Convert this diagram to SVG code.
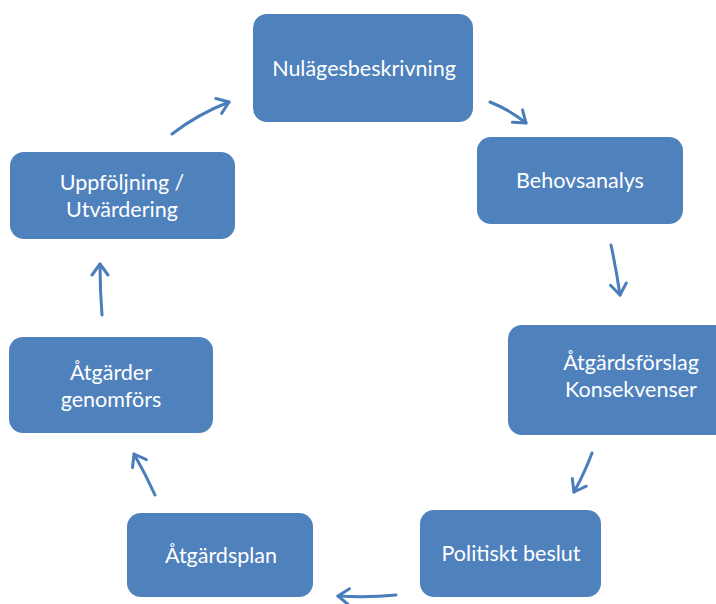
<svg xmlns="http://www.w3.org/2000/svg" width="716" height="604" viewBox="0 0 716 604">
<style>
.box{fill:#4F81BD;}
.t{fill:#fff;font-family:Lato,"Open Sans","Liberation Sans",sans-serif;font-size:21.5px;text-anchor:middle;}
.c{fill:none;stroke:#4A7EBB;stroke-width:3;stroke-linecap:round;}
</style>
<defs>
<marker id="ah" markerUnits="userSpaceOnUse" markerWidth="30" markerHeight="30" refX="0" refY="0" viewBox="-15 -15 30 30" orient="auto" overflow="visible">
<path d="M-11,-8 L0,0 L-11,8" fill="none" stroke="#4A7EBB" stroke-width="3" stroke-linecap="round" stroke-linejoin="round"/>
</marker>
</defs>
<rect width="716" height="604" fill="#fff"/>
<g id="connectors">
<path class="c" d="M172,134 Q198,114 229,102" marker-end="url(#ah)"/>
<path class="c" d="M490,102 Q510,110 526,123" marker-end="url(#ah)"/>
<path class="c" d="M611,245 Q616,268 620,295" marker-end="url(#ah)"/>
<path class="c" d="M592,453 Q585,472 574,492" marker-end="url(#ah)"/>
<path class="c" d="M396,595 Q368,598 338,596" marker-end="url(#ah)"/>
<path class="c" d="M155,495 Q146,475 134,454" marker-end="url(#ah)"/>
<path class="c" d="M102,315 Q100,290 100,264" marker-end="url(#ah)"/>
</g>
<g id="n1"><rect class="box" x="253" y="14" width="220" height="108" rx="14"/><text class="t" x="364" y="76">Nulägesbeskrivning</text></g>
<g id="n2"><rect class="box" x="477" y="137" width="206" height="87" rx="14"/><text class="t" x="580" y="188">Behovsanalys</text></g>
<g id="n3"><rect class="box" x="508" y="325" width="246" height="110" rx="14"/><text class="t" x="631" y="370">Åtgärdsförslag</text><text class="t" x="631" y="397">Konsekvenser</text></g>
<g id="n4"><rect class="box" x="420" y="510" width="181" height="87" rx="14"/><text class="t" x="511" y="561">Politiskt beslut</text></g>
<g id="n5"><rect class="box" x="127" y="513" width="186" height="84" rx="14"/><text class="t" x="221" y="563">Åtgärdsplan</text></g>
<g id="n6"><rect class="box" x="9" y="337" width="204" height="96" rx="14"/><text class="t" x="111" y="380">Åtgärder</text><text class="t" x="111" y="407">genomförs</text></g>
<g id="n7"><rect class="box" x="10" y="152" width="225" height="87" rx="14"/><text class="t" x="122" y="190">Uppföljning /</text><text class="t" x="122" y="217">Utvärdering</text></g>
</svg>
